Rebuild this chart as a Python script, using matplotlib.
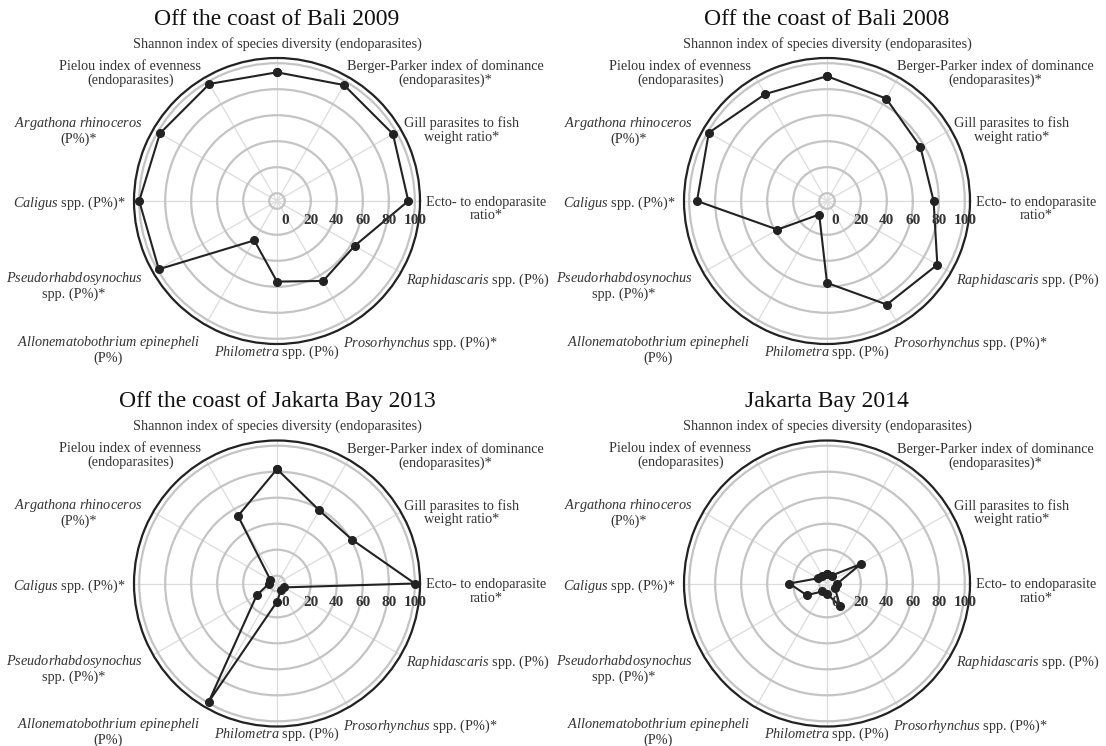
import numpy as np
import matplotlib
matplotlib.use("Agg")
import matplotlib.pyplot as plt

plt.rcParams['font.family'] = ['Liberation Serif', 'DejaVu Serif']
plt.rcParams['mathtext.fontset'] = 'custom'
plt.rcParams['mathtext.rm'] = 'Liberation Serif'
plt.rcParams['mathtext.it'] = 'Liberation Serif:italic'

# axes, clockwise from the top
labels = [
    "Shannon index of species diversity (endoparasites)",
    "Berger-Parker index of dominance\n(endoparasites)*",
    "Gill parasites to fish\nweight ratio*",
    "Ecto- to endoparasite\nratio*",
    r"$\mathit{Raphidascaris}$ spp. (P%)",
    r"$\mathit{Prosorhynchus}$ spp. (P%)*",
    r"$\mathit{Philometra}$ spp. (P%)",
    r"$\mathit{Allonematobothrium\ epinepheli}$" + "\n(P%)",
    r"$\mathit{Pseudorhabdosynochus}$" + "\nspp. (P%)*",
    r"$\mathit{Caligus}$ spp. (P%)*",
    r"$\mathit{Argathona\ rhinoceros}$" + "\n(P%)*",
    "Pielou index of evenness\n(endoparasites)",
]

titles = ["Off the coast of Bali 2009", "Off the coast of Bali 2008",
          "Off the coast of Jakarta Bay 2013", "Jakarta Bay 2014"]

bali_2009 = [93, 97, 97, 95, 63, 65, 56, 29, 99, 100, 98, 98]
bali_2008 = [90, 85, 77, 76, 92, 86, 57, 6, 38, 94, 99, 89]
jakarta_2013 = [82, 59, 61, 100, 0, 0, 8, 99, 12, 0, 0, 54]
jakarta_2014 = [1, 1, 24, 2, 1, 14, 2, 1, 12, 23, 2, 1]

rticks = [0, 20, 40, 60, 80, 100]

# label anchor (x, y as fraction of radius), horizontal alignment
label_pos = [
    (0.0, 1.11, 'center'), (0.49, 0.95, 'left'), (0.89, 0.55, 'left'),
    (1.04, 0.0, 'left'), (0.90, -0.535, 'left'), (0.46, -0.98, 'left'),
    (0.0, -1.04, 'center'), (-0.54, -0.98, 'right'), (-0.94, -0.535, 'right'),
    (-1.06, 0.0, 'right'), (-0.94, 0.55, 'right'), (-0.53, 0.95, 'right'),
]

# theta for each axis: 90 deg at top, going clockwise
angles = np.deg2rad((90 - 30 * np.arange(len(labels))) % 360)


def draw_panel(ax, title, values):
    ax.set_theta_zero_location('E')
    ax.set_theta_direction(1)
    ax.set_xticks(angles)
    ax.set_xticklabels([])
    ax.set_xlim(0, 2 * np.pi)
    ax.set_ylim(-6, 104)
    ax.set_yticks(rticks)
    ax.set_yticklabels([])
    ax.tick_params(axis='x', direction='out', length=4, color='#aaaaaa', width=0.8)
    ax.tick_params(axis='y', length=0)
    ax.yaxis.grid(True, color='#c4c4c4', linewidth=1.6)
    ax.xaxis.grid(True, color='#dcdcdc', linewidth=0.9)
    ax.spines['polar'].set_color('#222222')
    ax.spines['polar'].set_linewidth(1.6)

    th = np.append(angles, angles[0])
    vals = np.append(values, values[0])
    ax.plot(th, vals, color='#222222', linewidth=1.5, marker='o',
            markersize=5.5, zorder=5, clip_on=False)

    for v in rticks:
        ax.annotate(str(v), xy=(0, v), xytext=(0, -14), textcoords='offset points',
                    ha='center', va='center', fontsize=11, fontweight='bold',
                    color='#333333', zorder=6)

    for lab, (fx, fy, ha) in zip(labels, label_pos):
        # multi-line labels: keep the first line on the anchor
        dy = -4.5 if '\n' in lab else 0
        ax.annotate(lab, xy=(0.5 + 0.5 * fx, 0.5 + 0.5 * fy), xycoords='axes fraction',
                    xytext=(0, dy), textcoords='offset points',
                    ha=ha, va='center_baseline', multialignment='center',
                    linespacing=1.05, fontsize=10.3, color='#333333',
                    annotation_clip=False)

    ax.text(0.5, 1.135, title, transform=ax.transAxes, ha='center', va='center',
            fontsize=17, color='#111111')


fig = plt.figure(figsize=(11.06, 7.46), dpi=100)
W, H = 1106, 746
R = 143
centers = [(277, 201), (827, 201), (277, 583.5), (827, 583.5)]
data = [bali_2009, bali_2008, jakarta_2013, jakarta_2014]

for (cx, cy), title, vals in zip(centers, titles, data):
    ax = fig.add_axes([(cx - R) / W, (H - cy - R) / H, 2 * R / W, 2 * R / H],
                      projection='polar')
    draw_panel(ax, title, vals)

fig.savefig("out.png", dpi=100)
